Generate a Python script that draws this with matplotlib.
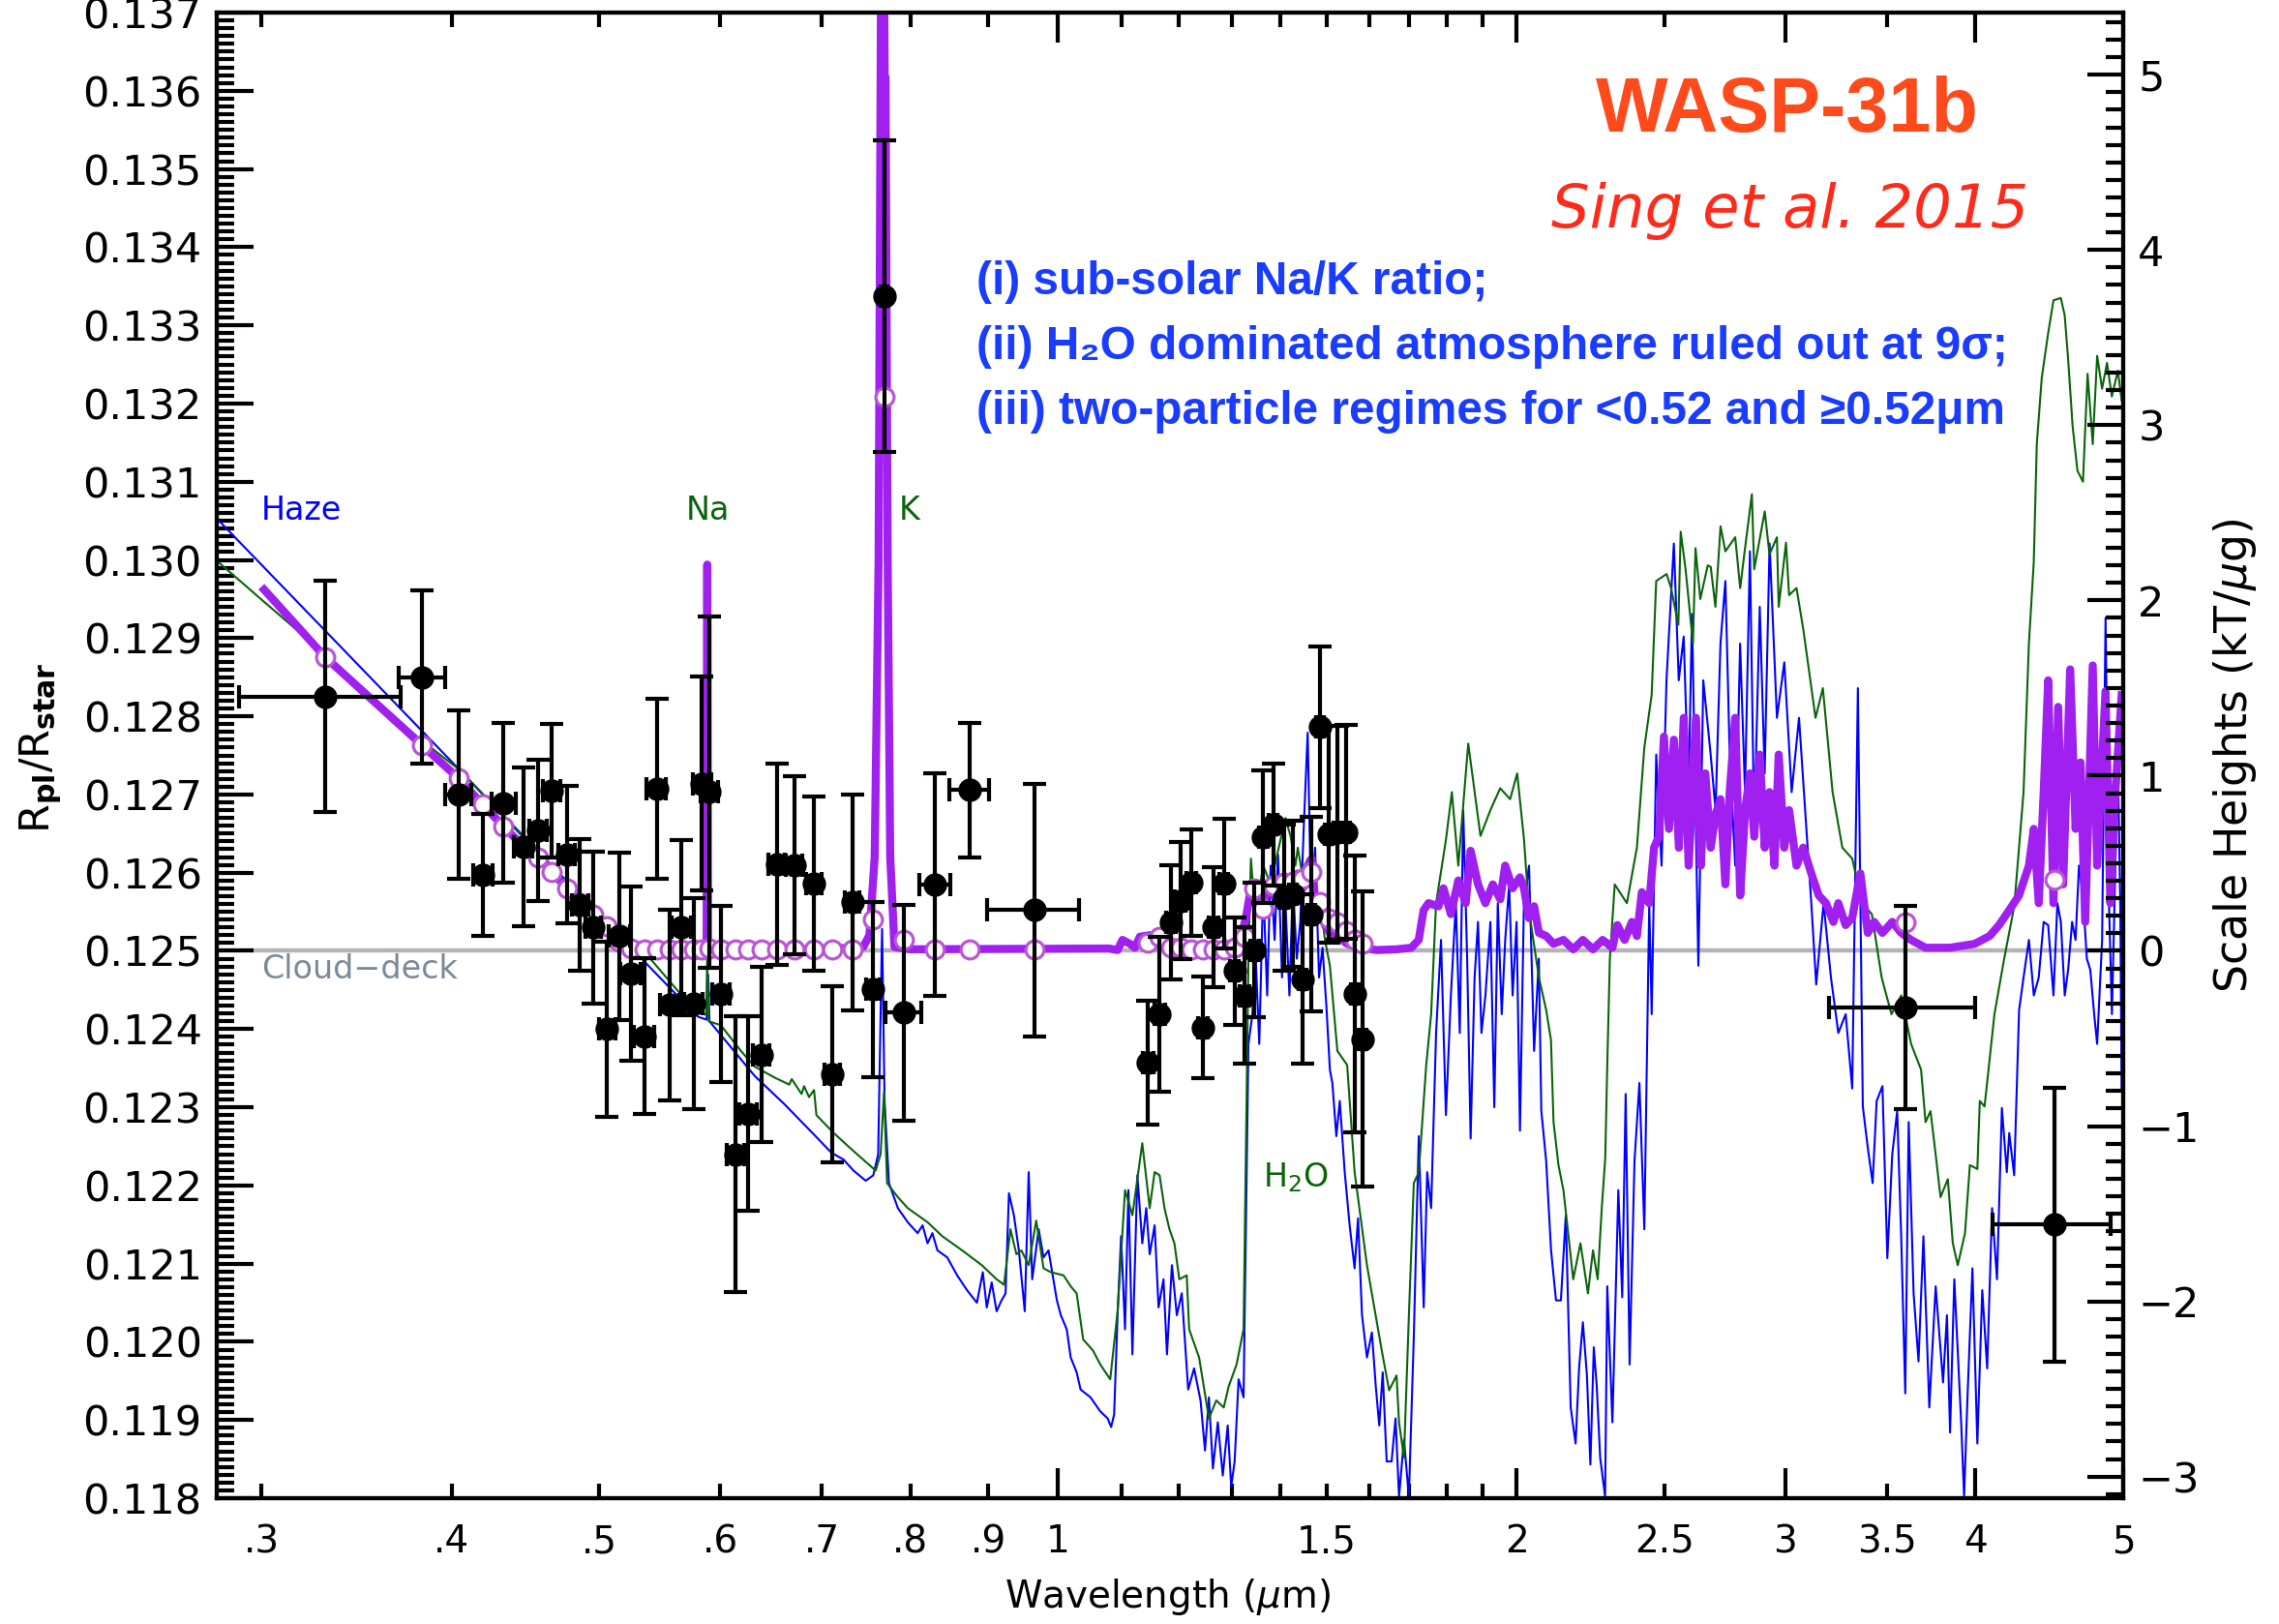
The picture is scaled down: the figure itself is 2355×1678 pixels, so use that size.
import matplotlib
matplotlib.use("Agg")
import matplotlib.pyplot as plt
from matplotlib.ticker import FixedLocator, FixedFormatter, MultipleLocator, FormatStrFormatter

# measured Rp/Rs (STIS G430L, G750L, WFC3 G141, Spitzer 3.6 / 4.5)
wl = [0.3303, 0.3825, 0.4040, 0.4193, 0.4326, 0.4457, 0.4558, 0.4654, 0.4760, 0.4856, 0.4955, 0.5060,
      0.5155, 0.5244, 0.5351, 0.5452, 0.5562, 0.5659, 0.5765, 0.5839, 0.5905, 0.6007, 0.6143, 0.6259,
      0.6386, 0.6539, 0.6712, 0.6915, 0.7109, 0.7330, 0.7562,
      0.7688, 0.7920, 0.8302, 0.8746, 0.9653,
      1.1457, 1.1658, 1.1858, 1.2028, 1.2236, 1.2449, 1.2654, 1.2844, 1.3057, 1.3253, 1.3452, 1.3634,
      1.3839, 1.4069, 1.4258, 1.4472, 1.4658, 1.4856, 1.5046, 1.5247, 1.5454, 1.5651, 1.5851,
      3.600, 4.504]
rp = [0.12825, 0.12850, 0.12700, 0.12597, 0.12689, 0.12633, 0.12654, 0.12705, 0.12623, 0.12559, 0.12530, 0.12400,
      0.12519, 0.12471, 0.12391, 0.12707, 0.12431, 0.12530, 0.12433, 0.12714, 0.12703, 0.12445, 0.12240, 0.12292,
      0.12367, 0.12611, 0.12610, 0.12586, 0.12342, 0.12562, 0.12451,
      0.13337, 0.12421, 0.12585, 0.12706, 0.12552,
      0.12357, 0.12419, 0.12537, 0.12564, 0.12587, 0.12402, 0.12530, 0.12586, 0.12474, 0.12443, 0.12501, 0.12646,
      0.12661, 0.12568, 0.12573, 0.12464, 0.12547, 0.12786, 0.12649, 0.12651, 0.12652, 0.12445, 0.12387,
      0.12428, 0.12150]
rp_err = [0.00148, 0.00111, 0.00108, 0.00078, 0.00102, 0.00102, 0.00090, 0.00085, 0.00088, 0.00084, 0.00097, 0.00112,
          0.00107, 0.00111, 0.00100, 0.00115, 0.00122, 0.00112, 0.00135, 0.00137, 0.00225, 0.00113, 0.00176, 0.00124,
          0.00112, 0.00129, 0.00114, 0.00112, 0.00113, 0.00138, 0.00112,
          0.00199, 0.00138, 0.00142, 0.00086, 0.00162,
          0.00079, 0.00099, 0.00073, 0.00075, 0.00068, 0.00065, 0.00077, 0.00083, 0.00069, 0.00087, 0.00086, 0.00085,
          0.00078, 0.00094, 0.00094, 0.00108, 0.00124, 0.00103, 0.00139, 0.00137, 0.00137, 0.00177, 0.00189,
          0.00130, 0.00175]
wl_err = [0.040, 0.0135, 0.008, 0.006, 0.008, 0.006, 0.006, 0.006, 0.006, 0.006, 0.006, 0.006,
          0.008, 0.008, 0.008, 0.008, 0.008, 0.008, 0.008, 0.008, 0.008, 0.008, 0.008, 0.008,
          0.008, 0.008, 0.008, 0.008, 0.008, 0.008, 0.008,
          0.004, 0.021, 0.0195, 0.026, 0.0665,
          0.009, 0.009, 0.009, 0.009, 0.009, 0.009, 0.009, 0.009, 0.009, 0.009, 0.009, 0.009,
          0.009, 0.009, 0.009, 0.009, 0.009, 0.009, 0.009, 0.009, 0.009, 0.009, 0.009,
          0.395, 0.40]
# best-fit model binned to the data
rp_binned = [0.12876, 0.12763, 0.12721, 0.12687, 0.12659, 0.12634, 0.12620, 0.12601, 0.12580, 0.12561, 0.12546, 0.12532,
             0.12512, 0.12503, 0.12502, 0.12502, 0.12502, 0.12502, 0.12502, 0.12502, 0.12503, 0.12502, 0.12502, 0.12502,
             0.12502, 0.12502, 0.12502, 0.12502, 0.12502, 0.12502, 0.12540,
             0.13209, 0.12514, 0.12502, 0.12502, 0.12502,
             0.12511, 0.12518, 0.12504, 0.12504, 0.12502, 0.12502, 0.12502, 0.12502, 0.12504, 0.12518, 0.12580, 0.12554,
             0.12584, 0.12587, 0.12589, 0.12592, 0.12601, 0.12563, 0.12542, 0.12537, 0.12525, 0.12514, 0.12509,
             0.12536, 0.12591]

# best-fit model (purple)
fit_wl = [0.3013, 0.3303, 0.3825, 0.4040, 0.4193, 0.4326, 0.4457, 0.4558, 0.4654, 0.4760, 0.4856, 0.4955,
          0.5060, 0.5155, 0.5205, 0.5500, 0.5880, 0.5886, 0.5892, 0.6000, 0.7000, 0.7450, 0.7520, 0.7580,
          0.7625, 0.7655, 0.7685, 0.7695, 0.7705, 0.7730, 0.7760, 0.7810, 0.8000, 1.0800, 1.0941, 1.1022,
          1.1147, 1.1231, 1.1315, 1.1485, 1.1745, 1.1922, 1.3136, 1.3284, 1.3383, 1.3433, 1.3533, 1.3634,
          1.3736, 1.3840, 1.3942, 1.4047, 1.4152, 1.4258, 1.4365, 1.4472, 1.4580, 1.4668, 1.4745, 1.4855,
          1.4966, 1.5078, 1.5248, 1.5478, 1.5827, 1.6185, 1.6677, 1.7053, 1.7245, 1.7373, 1.7504, 1.7769,
          1.7902, 1.8104, 1.8308, 1.8514, 1.8652, 1.8862, 1.9074, 1.9288, 1.9505, 1.9653, 1.9874, 2.0096,
          2.022, 2.037, 2.053, 2.068, 2.091, 2.114, 2.146, 2.178, 2.210, 2.244, 2.277, 2.311,
          2.328, 2.354, 2.380, 2.398, 2.416, 2.443, 2.461, 2.479, 2.498, 2.517, 2.536, 2.555,
          2.574, 2.593, 2.622, 2.641, 2.659, 2.681, 2.701, 2.721, 2.741, 2.759, 2.782, 2.803,
          2.824, 2.845, 2.863, 2.887, 2.909, 2.930, 2.952, 2.971, 2.996, 3.018, 3.052, 3.083,
          3.121, 3.156, 3.191, 3.227, 3.251, 3.287, 3.320, 3.361, 3.399, 3.432, 3.475, 3.527,
          3.575, 3.629, 3.709, 3.849, 3.995, 4.086, 4.145, 4.209, 4.272, 4.336, 4.368, 4.401,
          4.434, 4.464, 4.500, 4.532, 4.566, 4.615, 4.653, 4.688, 4.721, 4.775, 4.807, 4.868,
          4.904, 4.941, 4.988]
fit_rp = [0.12962, 0.12876, 0.12763, 0.12721, 0.12687, 0.12659, 0.12634, 0.12620, 0.12601, 0.12580, 0.12561, 0.12546,
          0.12532, 0.12512, 0.12502, 0.12501, 0.12502, 0.12994, 0.12502, 0.12501, 0.12502, 0.12505, 0.12520, 0.12620,
          0.13000, 0.13800, 0.13800, 0.13617, 0.13617, 0.13000, 0.12620, 0.12505, 0.12502, 0.12503, 0.12501, 0.12514,
          0.12509, 0.12504, 0.12518, 0.12520, 0.12510, 0.12503, 0.12505, 0.12543, 0.12580, 0.12571, 0.12580, 0.12557,
          0.12585, 0.12571, 0.12590, 0.12580, 0.12594, 0.12585, 0.12599, 0.12580, 0.12609, 0.12618, 0.12566, 0.12552,
          0.12533, 0.12523, 0.12519, 0.12509, 0.12504, 0.12501, 0.12502, 0.12504, 0.12514, 0.12552, 0.12561, 0.12557,
          0.12580, 0.12547, 0.12590, 0.12561, 0.12628, 0.12585, 0.12561, 0.12585, 0.12566, 0.12609, 0.12580, 0.12594,
          0.12580, 0.12542, 0.12557, 0.12523, 0.12519, 0.12509, 0.12514, 0.12502, 0.12514, 0.12502, 0.12514, 0.12504,
          0.12533, 0.12514, 0.12537, 0.12519, 0.12575, 0.12561, 0.12632, 0.12646, 0.12774, 0.12656, 0.12770, 0.12632,
          0.12798, 0.12609, 0.12798, 0.12609, 0.12727, 0.12632, 0.12675, 0.12694, 0.12585, 0.12703, 0.12798, 0.12571,
          0.12680, 0.12727, 0.12646, 0.12751, 0.12632, 0.12703, 0.12609, 0.12751, 0.12632, 0.12680, 0.12609, 0.12632,
          0.12599, 0.12571, 0.12561, 0.12537, 0.12561, 0.12533, 0.12542, 0.12599, 0.12523, 0.12537, 0.12523, 0.12537,
          0.12523, 0.12514, 0.12504, 0.12504, 0.12509, 0.12519, 0.12533, 0.12552, 0.12571, 0.12609, 0.12656, 0.12561,
          0.12703, 0.12846, 0.12561, 0.12812, 0.12585, 0.12860, 0.12656, 0.12741, 0.12537, 0.12865, 0.12609, 0.12832,
          0.12561, 0.12703, 0.12827]

# haze model (blue)
haze_wl = [0.2805, 0.4000, 0.5000, 0.5800, 0.5880, 0.5893, 0.5905, 0.6323, 0.6613, 0.6916, 0.7099, 0.7232,
           0.7341, 0.7478, 0.7564, 0.7620, 0.7665, 0.7694, 0.7745, 0.7850, 0.7968, 0.8088, 0.8149, 0.8210,
           0.8271, 0.8333, 0.8458, 0.8586, 0.8715, 0.8846, 0.8925, 0.8979, 0.9046, 0.9113, 0.9182, 0.9237,
           0.9285, 0.9354, 0.9425, 0.9509, 0.9566, 0.9617, 0.9711, 0.9783, 0.9857, 0.9930, 0.9982, 1.0042,
           1.0132, 1.0193, 1.0285, 1.0346, 1.0502, 1.0659, 1.0779, 1.0835, 1.0884, 1.0941, 1.0999, 1.1065,
           1.1122, 1.1189, 1.1273, 1.1357, 1.1425, 1.1485, 1.1571, 1.1640, 1.1727, 1.1789, 1.1877, 1.1966,
           1.2055, 1.2173, 1.2282, 1.2402, 1.2486, 1.2560, 1.2636, 1.2730, 1.2826, 1.2922, 1.2990, 1.3058,
           1.3136, 1.3235, 1.3333, 1.3413, 1.3482, 1.3553, 1.3634, 1.3716, 1.3788, 1.3871, 1.3943, 1.4027,
           1.4100, 1.4185, 1.4259, 1.4344, 1.4419, 1.4494, 1.4581, 1.4658, 1.4746, 1.4834, 1.4912, 1.5001,
           1.5079, 1.5136, 1.5227, 1.5306, 1.5421, 1.5536, 1.5653, 1.5735, 1.5829, 1.5948, 1.6067, 1.6162,
           1.6247, 1.6332, 1.6430, 1.6553, 1.6652, 1.6740, 1.6865, 1.6991, 1.7118, 1.7247, 1.7376, 1.7467,
           1.7572, 1.7704, 1.7836, 1.7969, 1.8104, 1.8240, 1.8349, 1.8445, 1.8555, 1.8652, 1.8764, 1.8862,
           1.8960, 1.9074, 1.9218, 1.9332, 1.9434, 1.9550, 1.9653, 1.9770, 1.9874, 1.9993, 2.0096, 2.0216,
           2.0373, 2.0530, 2.0677, 2.0754, 2.0908, 2.1063, 2.1221, 2.1378, 2.1537, 2.1697, 2.1859, 2.1973,
           2.2100, 2.2236, 2.2352, 2.2468, 2.2568, 2.2685, 2.2855, 2.2930, 2.3109, 2.3316, 2.3454, 2.3576,
           2.3717, 2.3893, 2.4071, 2.4251, 2.4431, 2.4522, 2.4690, 2.4890, 2.5076, 2.5357, 2.5545, 2.5736,
           2.5927, 2.6062, 2.6314, 2.6510, 2.6807, 2.7006, 2.7207, 2.7410, 2.7590, 2.7820, 2.8027, 2.8235,
           2.8446, 2.8630, 2.8871, 2.9086, 2.9303, 2.9631, 2.9962, 3.0297, 3.0636, 3.0979, 3.1210, 3.1442,
           3.1794, 3.2150, 3.2510, 3.2874, 3.3200, 3.3486, 3.3736, 3.3987, 3.4240, 3.4450, 3.4752, 3.5010,
           3.5271, 3.5534, 3.5750, 3.5971, 3.6158, 3.6427, 3.6698, 3.6972, 3.7301, 3.7662, 3.8084, 3.8310,
           3.8490, 3.8737, 3.8938, 3.9141, 3.9315, 3.9519, 3.9814, 4.0110, 4.0409, 4.0710, 4.1013, 4.1319,
           4.1626, 4.1936, 4.2090, 4.2405, 4.2721, 4.3010, 4.3360, 4.3683, 4.4009, 4.4336, 4.4640, 4.4999,
           4.5267, 4.5503, 4.5773, 4.6011, 4.6285, 4.6526, 4.6768, 4.7046, 4.7326, 4.7572, 4.7855, 4.8070,
           4.8432, 4.8684, 4.8937, 4.9155, 4.9411, 4.9595, 4.9779, 4.9880]
haze_rp = [0.13053, 0.12742, 0.12546, 0.12416, 0.12412, 0.12470, 0.12410, 0.12340, 0.12304, 0.12265, 0.12242, 0.12233,
           0.12219, 0.12206, 0.12213, 0.12240, 0.12528, 0.12308, 0.12203, 0.12171, 0.12153, 0.12139, 0.12149, 0.12126,
           0.12139, 0.12117, 0.12108, 0.12085, 0.12066, 0.12050, 0.12089, 0.12044, 0.12076, 0.12039, 0.12053, 0.12062,
           0.12190, 0.12162, 0.12117, 0.12039, 0.12217, 0.12080, 0.12144, 0.12108, 0.12117, 0.12080, 0.12053, 0.12034,
           0.12016, 0.11980, 0.11961, 0.11939, 0.11929, 0.11911, 0.11902, 0.11891, 0.11907, 0.12034, 0.12135, 0.12016,
           0.12194, 0.11984, 0.12213, 0.12126, 0.12171, 0.12112, 0.12149, 0.12044, 0.12080, 0.11984, 0.12098, 0.12034,
           0.12062, 0.11939, 0.11966, 0.11925, 0.11861, 0.11929, 0.11838, 0.11897, 0.11829, 0.11893, 0.11815, 0.11847,
           0.11952, 0.11929, 0.12381, 0.12419, 0.12490, 0.12381, 0.12585, 0.12443, 0.12609, 0.12514, 0.12623, 0.12466,
           0.12561, 0.12443, 0.12585, 0.12490, 0.12537, 0.12656, 0.12779, 0.12561, 0.12632, 0.12466, 0.12504, 0.12428,
           0.12348, 0.12331, 0.12263, 0.12308, 0.12217, 0.12149, 0.12094, 0.12158, 0.12034, 0.11980, 0.12012, 0.11943,
           0.11893, 0.11961, 0.11847, 0.11847, 0.11902, 0.11802, 0.11875, 0.11802, 0.12007, 0.12263, 0.12044, 0.12217,
           0.12171, 0.12395, 0.12514, 0.12290, 0.12443, 0.12561, 0.12395, 0.12680, 0.12490, 0.12260, 0.12466, 0.12537,
           0.12395, 0.12443, 0.12537, 0.12300, 0.12561, 0.12419, 0.12514, 0.12585, 0.12443, 0.12537, 0.12270, 0.12561,
           0.12609, 0.12372, 0.12490, 0.12296, 0.12231, 0.12117, 0.12053, 0.12053, 0.12162, 0.11916, 0.11870, 0.11966,
           0.12025, 0.11957, 0.11843, 0.11993, 0.11943, 0.11852, 0.11802, 0.12071, 0.11897, 0.12194, 0.12057, 0.12317,
           0.11971, 0.12231, 0.12331, 0.12144, 0.12561, 0.12419, 0.12751, 0.12609, 0.12846, 0.13021, 0.12846, 0.12902,
           0.12703, 0.12931, 0.12481, 0.12846, 0.12751, 0.12680, 0.12893, 0.12973, 0.12751, 0.12609, 0.12893, 0.12703,
           0.13011, 0.12656, 0.12940, 0.12727, 0.13021, 0.12798, 0.12869, 0.12703, 0.12798, 0.12656, 0.12561, 0.12457,
           0.12561, 0.12466, 0.12395, 0.12419, 0.12324, 0.12836, 0.12301, 0.12249, 0.12203, 0.12308, 0.12327, 0.12107,
           0.12240, 0.12295, 0.12135, 0.11934, 0.12281, 0.12062, 0.11975, 0.12135, 0.11916, 0.12071, 0.11948, 0.12034,
           0.11884, 0.12080, 0.11989, 0.11897, 0.11802, 0.11930, 0.12094, 0.11870, 0.12066, 0.11966, 0.12171, 0.12080,
           0.12299, 0.12217, 0.12267, 0.12213, 0.12424, 0.12466, 0.12514, 0.12443, 0.12466, 0.12537, 0.12533, 0.12443,
           0.12561, 0.12537, 0.12443, 0.12476, 0.12537, 0.12514, 0.12609, 0.12571, 0.12490, 0.12476, 0.12419, 0.12381,
           0.12514, 0.12926, 0.12561, 0.12419, 0.12609, 0.12746, 0.12561, 0.12324]

# clear H2O-rich model (green)
h2o_wl = [0.2805, 0.2990, 0.3300, 0.3800, 0.4045, 0.4457, 0.5000, 0.5411, 0.5744, 0.5876, 0.5885, 0.5898,
          0.6007, 0.6193, 0.6323, 0.6515, 0.6662, 0.6687, 0.6787, 0.6813, 0.6864, 0.6916, 0.6941, 0.7125,
          0.7341, 0.7591, 0.7648, 0.7688, 0.7723, 0.7850, 0.7968, 0.8088, 0.8210, 0.8396, 0.8650, 0.8912,
          0.9113, 0.9216, 0.9306, 0.9390, 0.9460, 0.9566, 0.9675, 0.9783, 0.9893, 1.0083, 1.0193, 1.0285,
          1.0387, 1.0541, 1.0659, 1.0820, 1.0941, 1.1065, 1.1189, 1.1357, 1.1485, 1.1571, 1.1658, 1.1745,
          1.1833, 1.1922, 1.2011, 1.2146, 1.2191, 1.2375, 1.2560, 1.2701, 1.2845, 1.2941, 1.3096, 1.3235,
          1.3333, 1.3383, 1.3453, 1.3533, 1.3634, 1.3788, 1.3943, 1.4100, 1.4207, 1.4313, 1.4365, 1.4473,
          1.4581, 1.4691, 1.4857, 1.4968, 1.5079, 1.5251, 1.5478, 1.5653, 1.5948, 1.6308, 1.6491, 1.6677,
          1.6740, 1.6865, 1.6991, 1.7118, 1.7247, 1.7442, 1.7572, 1.7704, 1.7969, 1.8131, 1.8308, 1.8585,
          1.8932, 1.9218, 1.9505, 1.9800, 2.0012, 2.022, 2.037, 2.068, 2.091, 2.106, 2.1142, 2.130,
          2.146, 2.178, 2.202, 2.227, 2.244, 2.260, 2.274, 2.286, 2.293, 2.302, 2.319, 2.362,
          2.398, 2.425, 2.452, 2.469, 2.508, 2.525, 2.553, 2.562, 2.581, 2.610, 2.620, 2.639,
          2.669, 2.681, 2.700, 2.721, 2.741, 2.782, 2.803, 2.824, 2.853, 2.863, 2.909, 2.930,
          2.963, 2.971, 3.004, 3.018, 3.052, 3.083, 3.141, 3.176, 3.199, 3.223, 3.271, 3.320,
          3.370, 3.420, 3.471, 3.523, 3.575, 3.629, 3.684, 3.709, 3.737, 3.766, 3.794, 3.836,
          3.865, 3.894, 3.937, 3.966, 4.011, 4.026, 4.055, 4.116, 4.177, 4.241, 4.301, 4.336,
          4.368, 4.388, 4.421, 4.464, 4.500, 4.550, 4.577, 4.601, 4.632, 4.666, 4.705, 4.738,
          4.775, 4.807, 4.843, 4.879, 4.915, 4.960, 4.988]
h2o_rp = [0.12999, 0.12952, 0.12880, 0.12773, 0.12732, 0.12645, 0.12545, 0.12488, 0.12429, 0.12418, 0.12490, 0.12410,
          0.12405, 0.12372, 0.12352, 0.12338, 0.12329, 0.12336, 0.12317, 0.12327, 0.12313, 0.12322, 0.12290, 0.12267,
          0.12244, 0.12219, 0.12240, 0.12320, 0.12203, 0.12185, 0.12171, 0.12162, 0.12153, 0.12135, 0.12117, 0.12098,
          0.12080, 0.12073, 0.12144, 0.12112, 0.12117, 0.12098, 0.12155, 0.12094, 0.12089, 0.12085, 0.12071, 0.12062,
          0.12003, 0.11989, 0.11971, 0.11952, 0.12039, 0.12194, 0.12162, 0.12254, 0.12171, 0.12217, 0.12213, 0.12171,
          0.12144, 0.12126, 0.12080, 0.12085, 0.12016, 0.11980, 0.11902, 0.11925, 0.11916, 0.11943, 0.11971, 0.12016,
          0.12490, 0.12618, 0.12561, 0.12571, 0.12609, 0.12585, 0.12628, 0.12670, 0.12647, 0.12609, 0.12632, 0.12594,
          0.12618, 0.12585, 0.12561, 0.12514, 0.12481, 0.12372, 0.12354, 0.12217, 0.12098, 0.11989, 0.11938, 0.11957,
          0.11897, 0.11852, 0.12034, 0.12203, 0.12217, 0.12354, 0.12419, 0.12561, 0.12642, 0.12703, 0.12609, 0.12765,
          0.12647, 0.12680, 0.12708, 0.12694, 0.12727, 0.12642, 0.12552, 0.12466, 0.12424, 0.12386, 0.12281, 0.12226,
          0.12194, 0.12080, 0.12126, 0.12062, 0.12117, 0.12080, 0.12171, 0.12235, 0.12354, 0.12490, 0.12585, 0.12561,
          0.12632, 0.12760, 0.12827, 0.12973, 0.12982, 0.12964, 0.12917, 0.13036, 0.12988, 0.12893, 0.13015, 0.12950,
          0.12993, 0.12991, 0.12940, 0.13043, 0.13011, 0.13029, 0.12964, 0.13016, 0.13084, 0.12988, 0.13062, 0.13007,
          0.13029, 0.12940, 0.13022, 0.12955, 0.12964, 0.12912, 0.12798, 0.12836, 0.12770, 0.12703, 0.12632, 0.12618,
          0.12561, 0.12547, 0.12466, 0.12419, 0.12443, 0.12381, 0.12348, 0.12281, 0.12295, 0.12240, 0.12185, 0.12208,
          0.12126, 0.12098, 0.12139, 0.12226, 0.12221, 0.12308, 0.12301, 0.12419, 0.12490, 0.12557, 0.12703, 0.12893,
          0.12997, 0.13148, 0.13233, 0.13290, 0.13332, 0.13335, 0.13313, 0.13256, 0.13171, 0.13114, 0.13100, 0.13238,
          0.13148, 0.13261, 0.13219, 0.13252, 0.13209, 0.13242, 0.13204]

cloud_deck = 0.125
scale_height = 0.002241   # one H in units of Rp/Rs

minor_x = [0.3, 0.4, 0.5, 0.6, 0.7, 0.8, 0.9, 1.1, 1.2, 1.3, 1.4, 1.5, 1.6, 1.7, 1.8, 1.9, 2.5, 3.5]
minor_x_labels = ['.3', '.4', '.5', '.6', '.7', '.8', '.9', '', '', '', '', '1.5', '', '', '', '', '2.5', '3.5']
major_x = [1, 2, 3, 4, 5]
major_x_labels = ['1', '2', '3', '4', '5']

fig = plt.figure(figsize=(23.55, 16.78), dpi=100)
ax = fig.add_axes([0.09512, 0.07747, 0.83652, 0.91478])
ax.set_xscale('log')
ax.set_xlim(0.2805, 5.0)
ax.set_ylim(0.118, 0.137)

ax.axhline(cloud_deck, color='#b4b4b4', lw=3.2, zorder=1)
ax.plot(haze_wl, haze_rp, color='#0000ff', lw=1.5, zorder=2)
ax.plot(h2o_wl, h2o_rp, color='#0a640a', lw=1.5, zorder=3)
ax.plot(fit_wl, fit_rp, color='#a020f0', lw=6, zorder=4)
ax.plot(wl, rp_binned, 'o', ls='none', mfc='white', mec='#ba55d3', mew=2.3, ms=13.5, zorder=5)
ax.errorbar(wl, rp, yerr=rp_err, xerr=wl_err, fmt='o', color='black', ms=16.5,
            elinewidth=3, capsize=8.5, capthick=3, zorder=6)

ax.xaxis.set_major_locator(FixedLocator(major_x))
ax.xaxis.set_major_formatter(FixedFormatter(major_x_labels))
ax.xaxis.set_minor_locator(FixedLocator(minor_x))
ax.xaxis.set_minor_formatter(FixedFormatter(minor_x_labels))
ax.tick_params(axis='x', which='both', direction='in', top=True, labelsize=28, pad=19, width=3)
ax.tick_params(axis='x', which='major', length=22)
ax.tick_params(axis='x', which='minor', length=11)

ax.yaxis.set_major_locator(MultipleLocator(0.001))
ax.yaxis.set_minor_locator(MultipleLocator(0.0001))
ax.yaxis.set_major_formatter(FormatStrFormatter('%.3f'))

ax2 = ax.twinx()
ax2.set_ylim((0.118 - cloud_deck) / scale_height, (0.137 - cloud_deck) / scale_height)
ax2.yaxis.set_major_locator(MultipleLocator(1))
ax2.yaxis.set_minor_locator(MultipleLocator(0.1))

for a in (ax, ax2):
    a.tick_params(axis='y', which='both', direction='in', labelsize=31, pad=11, width=3)
    a.tick_params(axis='y', which='major', length=27)
    a.tick_params(axis='y', which='minor', length=13)
    for s in a.spines.values():
        s.set_linewidth(3)

ax.set_xlabel(r'Wavelength ($\mu$m)', fontsize=28)
ax.xaxis.set_label_coords(0.4985, -0.053)
ax.set_ylabel(r'R$_{\mathbf{pl}}$/R$_{\mathbf{star}}$', fontsize=31)
ax.yaxis.set_label_coords(-0.080, 0.505)
ax2.set_ylabel(r'Scale Heights (kT/$\mu$g)', fontsize=33)
ax2.yaxis.set_label_coords(1.046, 0.50)

# annotations
ax.text(0.1146, 0.6859, 'Haze', transform=fig.transFigure, color='#0000ff', fontsize=24, va='center')
ax.text(0.3011, 0.6859, 'Na', transform=fig.transFigure, color='#0a640a', fontsize=24, va='center')
ax.text(0.3945, 0.6859, 'K', transform=fig.transFigure, color='#0a640a', fontsize=24, va='center')
ax.text(0.1146, 0.4029, 'Cloud\u2212deck', transform=fig.transFigure, color='#7a8a9a', fontsize=24, va='center')
ax.text(0.5541, 0.2747, r'H$_2$O', transform=fig.transFigure, color='#0a640a', fontsize=24, va='center')

fig.text(0.7843, 0.9309, 'WASP-31b', color='#ff4a1c', fontsize=57, fontweight='bold',
         family=['Liberation Sans', 'DejaVu Sans'], ha='center', va='center')
fig.text(0.7856, 0.8701, 'Sing et al. 2015', color='#ff2a1a', fontsize=45, style='italic',
         family='DejaVu Sans', ha='center', va='center')
notes = ['(i) sub-solar Na/K ratio;',
         '(ii) H\u2082O dominated atmosphere ruled out at 9\u03c3;',
         '(iii) two-particle regimes for <0.52 and \u22650.52\u03bcm']
for txt, fy in zip(notes, [0.8260, 0.7861, 0.7467]):
    fig.text(0.4285, fy, txt, color='#1a3cff', fontsize=34.4, fontweight='bold',
             family=['Liberation Sans', 'DejaVu Sans'], ha='left', va='center')

fig.savefig('out.png', dpi=100)
